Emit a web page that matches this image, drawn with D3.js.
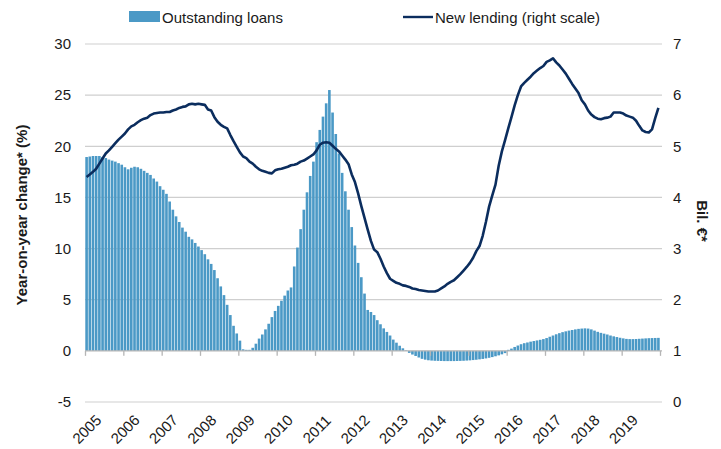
<!DOCTYPE html>
<html>
<head>
<meta charset="utf-8">
<script src="https://cdn.jsdelivr.net/npm/d3@7"></script>
<style>
  html, body { margin: 0; padding: 0; background: #fff; }
  svg { display: block; font-family: "Liberation Sans", Arial, sans-serif; }
</style>
</head>
<body>
<svg id="chart" width="721" height="449"></svg>
<script>
// Year labels along the x axis (one per January)
const years = [2005, 2006, 2007, 2008, 2009, 2010, 2011, 2012, 2013, 2014, 2015, 2016, 2017, 2018, 2019];

// Outstanding loans, year-on-year change (%), monthly Jan 2005 – Dec 2019
const outstandingLoans = [
  18.95, 19.0, 19.05, 19.05, 19.05, 18.95, 18.85, 18.7, 18.6, 18.5, 18.35, 18.2,
  17.95, 17.75, 17.9, 18.0, 17.95, 17.8, 17.6, 17.4, 17.2, 16.85, 16.55, 16.1,
  15.75, 15.35, 14.6, 13.8, 13.15, 12.6, 12.05, 11.65, 11.15, 10.9, 10.55, 10.2,
  9.85, 9.45, 8.95, 8.5, 7.9, 7.1, 6.3, 5.45, 4.5, 3.5, 2.45, 1.7,
  1.0, 0.15, 0.1, 0.1, 0.3, 0.7, 1.2, 1.6, 2.1, 2.65, 3.3, 3.9,
  4.4, 4.9, 5.4, 5.9, 6.2, 8.25, 10.1, 11.9, 13.8, 15.5, 17.1, 18.5,
  20.4, 21.6, 22.9, 24.2, 25.5, 23.3, 21.2, 19.3, 17.4, 15.6, 13.8, 12.1,
  10.3, 8.6, 7.2, 5.6, 4.0, 3.8, 3.5, 3.0, 2.6, 2.2, 1.85, 1.5,
  1.1, 0.8, 0.5, 0.25, 0.05, -0.2, -0.36, -0.5, -0.65, -0.78, -0.86, -0.92,
  -0.95, -0.97, -0.98, -0.99, -1.0, -1.0, -1.0, -1.0, -0.99, -0.98, -0.97, -0.95,
  -0.93, -0.9, -0.87, -0.83, -0.79, -0.74, -0.68, -0.61, -0.53, -0.44, -0.34, -0.22,
  0.1, 0.22, 0.38, 0.52, 0.65, 0.75, 0.82, 0.9, 0.96, 1.02, 1.08, 1.15,
  1.25, 1.38, 1.5, 1.62, 1.73, 1.83, 1.91, 1.98, 2.04, 2.1, 2.15, 2.18,
  2.2, 2.18, 2.1, 1.98, 1.86, 1.76, 1.68, 1.6, 1.5, 1.42, 1.35, 1.28,
  1.22, 1.17, 1.15, 1.15, 1.16, 1.18, 1.2, 1.22, 1.24, 1.25, 1.26, 1.27
];

// New lending, billions of euro (right scale), monthly Jan 2005 – Dec 2019
const newLending = [
  4.40, 4.45, 4.50, 4.56, 4.66, 4.76, 4.86, 4.92, 4.99, 5.06, 5.13, 5.19,
  5.25, 5.33, 5.39, 5.42, 5.47, 5.51, 5.54, 5.56, 5.61, 5.64, 5.65, 5.66,
  5.66, 5.67, 5.67, 5.70, 5.72, 5.75, 5.77, 5.78, 5.82, 5.83, 5.82, 5.83,
  5.82, 5.81, 5.72, 5.70, 5.57, 5.48, 5.42, 5.38, 5.35, 5.22, 5.10, 4.99,
  4.88, 4.80, 4.77, 4.70, 4.66, 4.60, 4.55, 4.52, 4.50, 4.48, 4.47, 4.53,
  4.55, 4.56, 4.58, 4.60, 4.63, 4.64, 4.66, 4.70, 4.72, 4.76, 4.80, 4.84,
  4.92, 5.03, 5.07, 5.08, 5.07, 5.01, 4.95, 4.90, 4.82, 4.74, 4.65, 4.45,
  4.30, 4.08, 3.83, 3.60, 3.37, 3.15, 2.98, 2.93, 2.80, 2.65, 2.52, 2.41,
  2.37, 2.33, 2.31, 2.28, 2.27, 2.25, 2.22, 2.21, 2.19, 2.18, 2.17, 2.16,
  2.16, 2.16, 2.18, 2.22, 2.26, 2.31, 2.35, 2.38, 2.44, 2.50, 2.57, 2.64,
  2.72, 2.82, 2.95, 3.05, 3.25, 3.52, 3.82, 4.04, 4.25, 4.62, 4.90, 5.12,
  5.35, 5.57, 5.80, 6.00, 6.17, 6.24, 6.30, 6.36, 6.43, 6.48, 6.53, 6.57,
  6.65, 6.68, 6.72, 6.64, 6.58, 6.50, 6.42, 6.32, 6.22, 6.13, 6.04, 5.90,
  5.82, 5.70, 5.62, 5.57, 5.54, 5.53, 5.55, 5.56, 5.58, 5.66, 5.66, 5.66,
  5.64, 5.60, 5.58, 5.56, 5.50, 5.40, 5.31, 5.28, 5.27, 5.33, 5.55, 5.75
];

const leftTicks = [-5, 0, 5, 10, 15, 20, 25, 30];
const rightTicks = [0, 1, 2, 3, 4, 5, 6, 7];

const seriesNames = ["Outstanding loans", "New lending (right scale)"];
const leftTitle = "Year-on-year change* (%)";
const rightTitle = "Bil. €*";

const barColor = "#4b99c6";
const lineColor = "#0b2d5e";
const gridColor = "#cfcfcf";
const textColor = "#1a1a1a";

const plot = { left: 85, right: 660, top: 44, bottom: 402 };

const svg = d3.select("#chart");

// Plain hyphen-minus for negative tick labels
const tickFmt = d => (d < 0 ? "-" : "") + Math.abs(d);

const months = d3.range(outstandingLoans.length);
const x = d3.scaleBand().domain(months).range([plot.left, plot.right]).paddingInner(0.18).paddingOuter(0.09);
const yLeft = d3.scaleLinear().domain([-5, 30]).range([plot.bottom, plot.top]);
const yRight = d3.scaleLinear().domain([0, 7]).range([plot.bottom, plot.top]);
const xYears = d3.scaleLinear().domain([2005, 2020]).range([plot.left, plot.right]);

// Horizontal gridlines (zero is drawn later as the category axis)
svg.append("g")
  .selectAll("line")
  .data(leftTicks.filter(d => d !== 0))
  .join("line")
  .attr("x1", plot.left)
  .attr("x2", plot.right + 2)
  .attr("y1", d => yLeft(d))
  .attr("y2", d => yLeft(d))
  .attr("stroke", gridColor)
  .attr("stroke-width", 1.2);

// Outstanding loans bars
svg.append("g")
  .selectAll("rect")
  .data(outstandingLoans)
  .join("rect")
  .attr("x", (d, i) => x(i))
  .attr("width", x.bandwidth())
  .attr("y", d => yLeft(Math.max(0, d)))
  .attr("height", d => Math.abs(yLeft(d) - yLeft(0)))
  .attr("fill", barColor);

// Category axis on the zero line, with a tick at each year boundary
const xAxis = svg.append("g")
  .attr("transform", `translate(0,${yLeft(0)})`)
  .call(d3.axisBottom(xYears).tickValues(d3.range(2005, 2021)).tickSize(5).tickFormat(""));
xAxis.select(".domain").attr("stroke", "#b5b5b5").attr("stroke-width", 1.3)
  .attr("d", `M${plot.left},0H${plot.right + 2}`);
xAxis.selectAll(".tick line").attr("stroke", "#b5b5b5").attr("stroke-width", 1.3);

// Year labels, rotated
svg.append("g")
  .selectAll("text")
  .data(years)
  .join("text")
  .attr("transform", (d, i) => `translate(${x(i * 12) + x.bandwidth() / 2},429) rotate(-45)`)
  .attr("text-anchor", "middle")
  .attr("dominant-baseline", "central")
  .attr("font-size", 15)
  .attr("fill", textColor)
  .text(d => d);

// New lending line
const line = d3.line()
  .x((d, i) => x(i) + x.bandwidth() / 2)
  .y(d => yRight(d))
  .curve(d3.curveLinear);
svg.append("path")
  .datum(newLending)
  .attr("d", line)
  .attr("fill", "none")
  .attr("stroke", lineColor)
  .attr("stroke-width", 2.6)
  .attr("stroke-linejoin", "round");

// Left value axis labels
const leftAxis = svg.append("g")
  .attr("transform", `translate(${plot.left},0)`)
  .call(d3.axisLeft(yLeft).tickValues(leftTicks).tickSize(0).tickPadding(14).tickFormat(tickFmt));
leftAxis.select(".domain").remove();
leftAxis.selectAll("text").attr("font-size", 15).attr("fill", textColor)
  .attr("font-family", "'Liberation Sans', Arial, sans-serif");

// Right value axis labels
const rightAxis = svg.append("g")
  .attr("transform", `translate(${plot.right},0)`)
  .call(d3.axisRight(yRight).tickValues(rightTicks).tickSize(0).tickPadding(13).tickFormat(tickFmt));
rightAxis.select(".domain").remove();
rightAxis.selectAll("text").attr("font-size", 15).attr("fill", textColor)
  .attr("font-family", "'Liberation Sans', Arial, sans-serif");

// Axis titles
svg.append("text")
  .attr("transform", `translate(21,${(plot.top + plot.bottom) / 2 - 8}) rotate(-90)`)
  .attr("text-anchor", "middle")
  .attr("dominant-baseline", "central")
  .attr("font-size", 15)
  .attr("font-weight", "bold")
  .attr("fill", textColor)
  .text(leftTitle);

svg.append("text")
  .attr("transform", `translate(702,${(plot.top + plot.bottom) / 2 - 2}) rotate(90)`)
  .attr("text-anchor", "middle")
  .attr("dominant-baseline", "central")
  .attr("font-size", 15)
  .attr("font-weight", "bold")
  .attr("fill", textColor)
  .text(rightTitle);

// Legend
const legend = svg.append("g");
legend.append("rect")
  .attr("x", 129).attr("y", 11).attr("width", 31).attr("height", 11)
  .attr("fill", barColor);
legend.append("text")
  .attr("x", 162).attr("y", 17)
  .attr("dominant-baseline", "central")
  .attr("font-size", 15).attr("fill", textColor)
  .text(seriesNames[0]);
legend.append("line")
  .attr("x1", 403).attr("x2", 433).attr("y1", 17).attr("y2", 17)
  .attr("stroke", lineColor).attr("stroke-width", 2.4);
legend.append("text")
  .attr("x", 435).attr("y", 17)
  .attr("dominant-baseline", "central")
  .attr("font-size", 15).attr("fill", textColor)
  .text(seriesNames[1]);
</script>
</body>
</html>
